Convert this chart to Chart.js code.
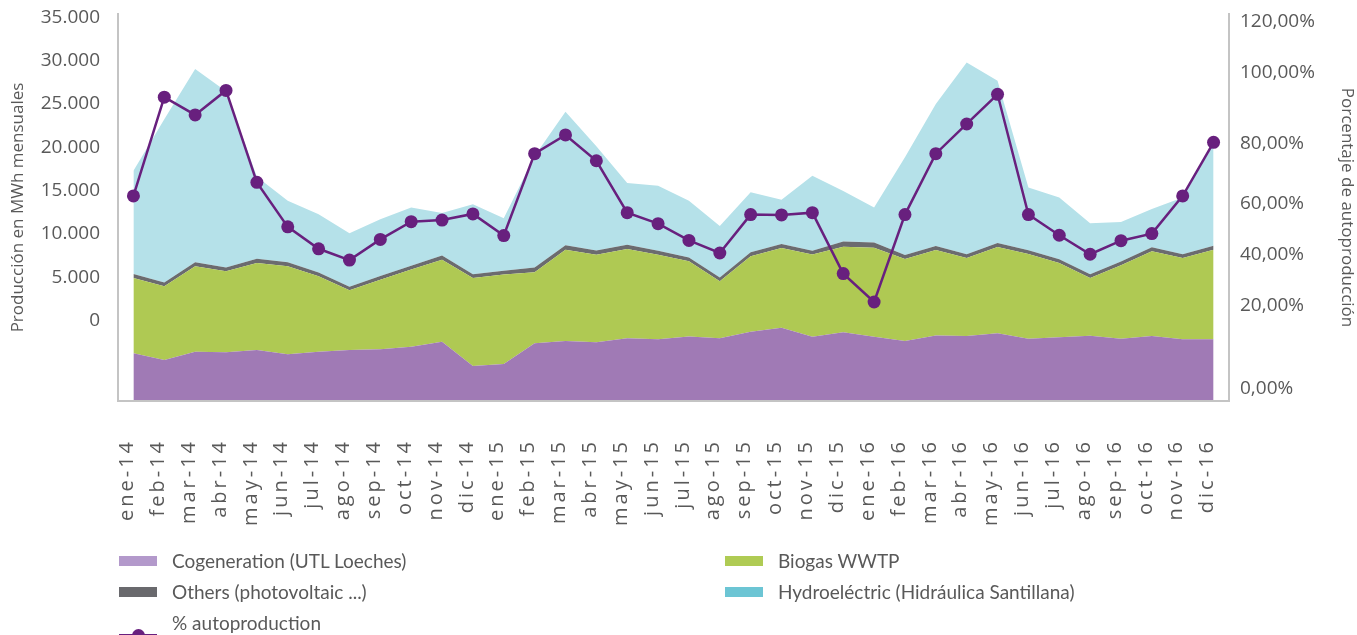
<!DOCTYPE html>
<html>
<head>
<meta charset="utf-8">
<script src="https://cdn.jsdelivr.net/npm/chart.js@4/dist/chart.umd.min.js"></script>
<style>
  body { margin: 0; background: #fff; }
  #wrap { position: relative; width: 1357px; height: 635px; overflow: hidden; }
  #legend {
    position: absolute; left: 119px; top: 545px;
    display: grid; grid-template-columns: 606px 520px; grid-auto-rows: 31px;
    font-family: Lato, 'Open Sans', sans-serif; font-size: 19px; color: #595959;
  }
  .item { display: flex; align-items: center; white-space: nowrap; }
  .box { width: 38px; height: 10px; margin-right: 15px; flex: none; }
  .mark { position: relative; width: 38px; height: 10px; margin-right: 15px; flex: none; }
</style>
</head>
<body>
<div id="wrap">
  <canvas id="chart-autoproduccion"></canvas>
  <div id="legend"></div>
</div>
<script>
const months = ['ene-14', 'feb-14', 'mar-14', 'abr-14', 'may-14', 'jun-14', 'jul-14', 'ago-14', 'sep-14', 'oct-14', 'nov-14', 'dic-14',
    'ene-15', 'feb-15', 'mar-15', 'abr-15', 'may-15', 'jun-15', 'jul-15', 'ago-15', 'sep-15', 'oct-15', 'nov-15', 'dic-15',
    'ene-16', 'feb-16', 'mar-16', 'abr-16', 'may-16', 'jun-16', 'jul-16', 'ago-16', 'sep-16', 'oct-16', 'nov-16', 'dic-16'];

// MWh mensuales
const cogeneration = [4310, 3710, 4460, 4400, 4610, 4220, 4460, 4610, 4680, 4910, 5360, 3170,
    3350, 5220, 5430, 5310, 5670, 5580, 5830, 5670, 6270, 6630, 5820, 6210,
    5820, 5430, 5920, 5880, 6120, 5630, 5760, 5910, 5630, 5880, 5580, 5580];
const biogas = [6810, 6670, 7720, 7330, 7870, 7960, 6820, 5400, 6290, 6980, 7420, 7960,
    8080, 6420, 8260, 7920, 8080, 7650, 6800, 5160, 6820, 7210, 7420, 7730,
    8040, 7420, 7730, 7050, 7810, 7660, 6720, 5220, 6640, 7660, 7350, 8100];
const others = [360, 340, 370, 350, 390, 370, 350, 330, 340, 350, 370, 340,
    350, 430, 400, 370, 380, 360, 350, 330, 360, 370, 350, 480,
    480, 360, 370, 350, 360, 340, 340, 330, 340, 360, 350, 370];
const hydro = [9340, 14770, 17480, 15940, 7420, 5570, 5270, 4820, 5130, 5250, 3860, 6330,
    4740, 10090, 12060, 9440, 5580, 5880, 5120, 4670, 5430, 3980, 6780, 4580,
    3170, 8840, 12840, 17340, 14680, 5670, 5580, 4610, 3580, 3460, 5130, 9200];
// % autoproduction (fraction)
const autoproduction = [0.636, 0.942, 0.887, 0.963, 0.678, 0.540, 0.472, 0.437, 0.501, 0.556, 0.561, 0.580,
    0.513, 0.767, 0.825, 0.745, 0.584, 0.550, 0.498, 0.459, 0.578, 0.577, 0.584, 0.395,
    0.307, 0.578, 0.767, 0.859, 0.951, 0.578, 0.514, 0.455, 0.497, 0.519, 0.636, 0.802];

// the reference prints its axis labels away from the data scale:
// left labels run 0..35.000 evenly but higher up, right labels are unevenly spaced
const leftTickValues = [0, 5000, 10000, 15000, 20000, 25000, 30000, 35000];
const leftLabelMin = -9273;
const leftLabelMax = 35381;
const pctTickLabels = ['0,00%', '20,00%', '40,00%', '60,00%', '80,00%', '100,00%', '120,00%'];
const pctTickPos = [0.040, 0.295, 0.453, 0.611, 0.797, 1.017, 1.175];

const grey = '#595959';
const axisLine = '#C4C4C4';

const dataAuto = {
    labels: months,
    datasets: [{
        label: 'Cogeneration (UTL Loeches)',
        data: cogeneration,
        backgroundColor: '#A07AB5',
        legendColor: '#B399CB',
        fill: 'origin',
        order: 1
    }, {
        label: 'Biogas WWTP',
        data: biogas,
        backgroundColor: '#AFC953',
        legendColor: '#AFCB54',
        fill: '-1',
        order: 1
    }, {
        label: 'Others (photovoltaic ...)',
        data: others,
        backgroundColor: '#6B6B6F',
        legendColor: '#69696D',
        fill: '-1',
        order: 1
    }, {
        label: 'Hydroeléctric (Hidráulica Santillana)',
        data: hydro,
        backgroundColor: '#B5E1E9',
        legendColor: '#6CC5D4',
        fill: '-1',
        order: 1
    }, {
        label: '% autoproduction',
        data: autoproduction,
        yAxisID: 'yPct',
        borderColor: '#68207E',
        backgroundColor: '#68207E',
        legendColor: '#68207E',
        borderWidth: 2.5,
        pointRadius: 6.5,
        pointBorderWidth: 0,
        fill: false,
        order: 0
    }]
};
dataAuto.datasets.forEach((ds, i) => {
    if (i < 4) {
        ds.yAxisID = 'y';
        ds.borderWidth = 0;
        ds.pointRadius = 0;
        ds.tension = 0;
    }
});

// x tick labels in the reference are letter-spaced
const xLabelSpacing = {
    id: 'xLabelSpacing',
    afterDatasetsDraw(chart) { chart.ctx.letterSpacing = '3px'; },
    afterDraw(chart) { chart.ctx.letterSpacing = '0px'; }
};

function noPad(scale) {
    scale.paddingTop = 0;
    scale.paddingBottom = 0;
    scale.paddingLeft = 0;
    scale.paddingRight = 0;
}

const configAuto = {
    type: 'line',
    data: dataAuto,
    plugins: [xLabelSpacing],
    options: {
        responsive: true,
        maintainAspectRatio: false,
        animation: false,
        layout: { padding: { top: 14, left: 0, right: 0, bottom: 0 } },
        plugins: {
            legend: { display: false },
            tooltip: { enabled: false }
        },
        scales: {
            x: {
                offset: true,
                grid: { display: false, drawTicks: false },
                border: { color: axisLine, width: 2, z: 1 },
                ticks: {
                    z: 1,
                    color: grey,
                    font: { family: 'Open Sans', size: 20 },
                    minRotation: 90,
                    maxRotation: 90,
                    autoSkip: false,
                    padding: 38,
                    labelOffset: -6
                },
                afterFit(scale) { scale.height = 234; noPad(scale); }
            },
            y: {
                display: false,
                stacked: true,
                min: 0,
                max: 35000
            },
            yLab: {
                position: 'left',
                min: leftLabelMin,
                max: leftLabelMax,
                grid: { display: false, drawTicks: false },
                border: { color: axisLine, width: 2 },
                ticks: {
                    autoSkip: false,
                    color: grey,
                    padding: 18,
                    font: { family: 'Open Sans', size: 19 },
                    callback: (v) => String(v).replace(/\B(?=(\d{3})+(?!\d))/g, '.')
                },
                afterBuildTicks(scale) {
                    scale.ticks = leftTickValues.map(v => ({ value: v }));
                },
                title: {
                    display: true,
                    text: 'Producción en MWh mensuales',
                    color: grey,
                    font: { family: 'Open Sans', size: 17 },
                    padding: { top: 8, bottom: 0 }
                },
                afterFit(scale) { scale.width = 118; noPad(scale); }
            },
            yPct: {
                position: 'right',
                min: 0,
                max: 1.2,
                grid: { display: false, drawTicks: false },
                border: { color: axisLine, width: 2 },
                ticks: {
                    autoSkip: false,
                    color: grey,
                    padding: 11,
                    font: { family: 'Open Sans', size: 19 },
                    callback: (v, i) => pctTickLabels[i]
                },
                afterBuildTicks(scale) {
                    scale.ticks = pctTickPos.map(v => ({ value: v }));
                },
                title: {
                    display: true,
                    text: 'Porcentaje de autoproducción',
                    color: grey,
                    font: { family: 'Open Sans', size: 17 },
                    padding: { top: 0, bottom: 2 }
                },
                afterFit(scale) { scale.width = 128; noPad(scale); }
            }
        }
    }
};

const myChartAuto = new Chart(document.getElementById('chart-autoproduccion'), configAuto);

// legend in two columns, as in the reference
const legendEl = document.getElementById('legend');
dataAuto.datasets.forEach(ds => {
    const item = document.createElement('div');
    item.className = 'item';
    const sym = document.createElement('div');
    if (ds.yAxisID === 'yPct') {
        sym.className = 'mark';
        sym.innerHTML = '<div style="position:absolute;left:0;right:0;top:16px;height:3px;background:' + ds.legendColor + '"></div>' +
            '<div style="position:absolute;left:13px;top:11px;width:13px;height:13px;border-radius:7px;background:' + ds.legendColor + '"></div>';
    } else {
        sym.className = 'box';
        sym.style.background = ds.legendColor;
    }
    item.appendChild(sym);
    const txt = document.createElement('span');
    txt.textContent = ds.label;
    item.appendChild(txt);
    legendEl.appendChild(item);
});
</script>
</body>
</html>
